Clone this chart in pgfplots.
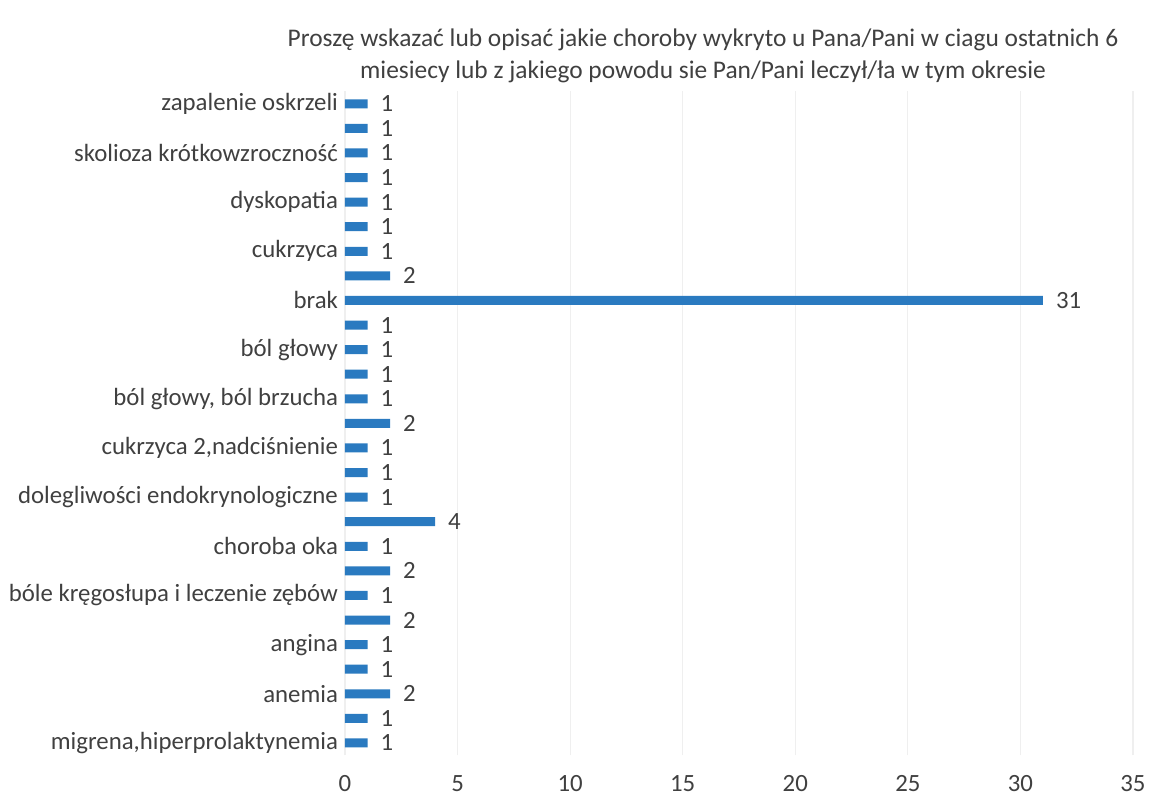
\documentclass[border=0pt]{standalone}
\usepackage{fontspec}
\setmainfont{Carlito}
\usepackage{pgfplots}
\pgfplotsset{compat=1.18}
\definecolor{barblue}{HTML}{2A7AC0}
\definecolor{txt}{HTML}{404040}
\definecolor{gridc}{HTML}{EFEFEF}
\begin{document}
\begin{tikzpicture}[x=0.5pt,y=0.5pt]
\useasboundingbox[fill=white] (0,0) rectangle (1153,801);
\node[text=txt, font=\fontsize{12.7}{16}\selectfont, align=center] at (703,745)
  {Proszę wskazać lub opisać jakie choroby wykryto u Pana/Pani w ciagu ostatnich 6\\miesiecy lub z jakiego powodu sie Pan/Pani leczył/ła w tym okresie};
\begin{axis}[
  at={(172.5pt,22.85pt)}, anchor=south west,
  scale only axis, width=394pt, height=331.9pt,
  xmin=0, xmax=35, ymin=-0.5, ymax=26.5,
  xbar, bar width=4.5pt,
  axis line style={draw=none},
  major tick length=0pt,
  xmajorgrids, grid style={gridc, line width=0.6pt},
  xtick={0,5,...,35},
  /pgf/number format/assume math mode=true,
  xticklabel style={font=\fontsize{12.4}{14}\selectfont, text=txt, yshift=-6.5pt},
  ytick={0,2,...,26},
  yticklabels={{migrena,hiperprolaktynemia},anemia,angina,{bóle kręgosłupa i leczenie zębów},{choroba oka},{dolegliwości endokrynologiczne},{cukrzyca 2,nadciśnienie},{ból głowy, ból brzucha},{ból głowy},brak,cukrzyca,dyskopatia,{skolioza krótkowzroczność},{zapalenie oskrzeli}},
  yticklabel style={font=\fontsize{12.4}{14}\selectfont, text=txt},
  nodes near coords,
  every node near coord/.append style={font=\fontsize{12.4}{14}\selectfont, text=txt, anchor=west, xshift=3pt},
]
\addplot[fill=barblue, draw=none] coordinates {
(1,0) (1,1) (2,2) (1,3) (1,4) (2,5) (1,6) (2,7) (1,8) (4,9)
(1,10) (1,11) (1,12) (2,13) (1,14) (1,15) (1,16) (1,17) (31,18) (2,19)
(1,20) (1,21) (1,22) (1,23) (1,24) (1,25) (1,26)
};
\end{axis}
\end{tikzpicture}
\end{document}
